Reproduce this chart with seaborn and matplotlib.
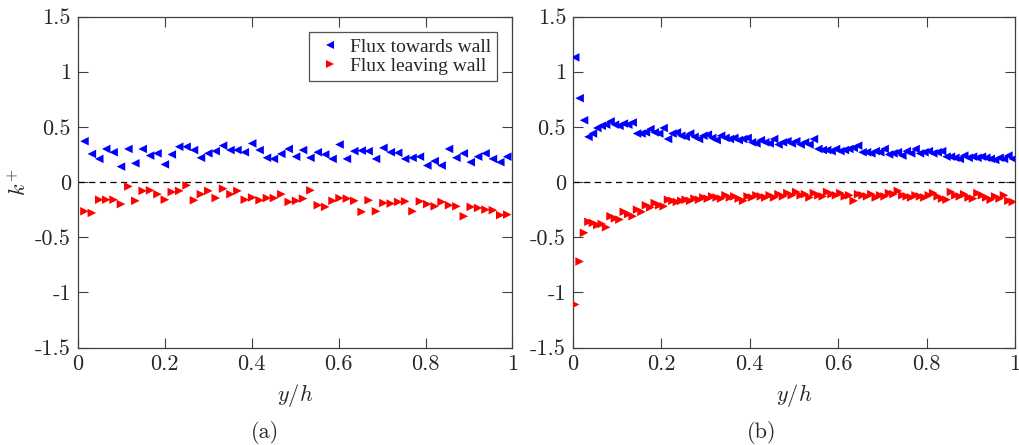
import numpy as np
import pandas as pd
import matplotlib
matplotlib.use("Agg")
import matplotlib.pyplot as plt
import seaborn as sns

## Data read off the reference
# panel (a): coarse sampling
y_a = [0.015, 0.032, 0.049, 0.065, 0.082, 0.099, 0.116, 0.132, 0.149, 0.166,
       0.183, 0.200, 0.216, 0.233, 0.250, 0.267, 0.283, 0.300, 0.317, 0.334,
       0.351, 0.367, 0.384, 0.401, 0.418, 0.435, 0.451, 0.468, 0.485, 0.502,
       0.518, 0.535, 0.552, 0.569, 0.586, 0.602, 0.619, 0.636, 0.653, 0.669,
       0.686, 0.703, 0.720, 0.737, 0.753, 0.770, 0.787, 0.804, 0.821, 0.837,
       0.854, 0.871, 0.888, 0.904, 0.921, 0.938, 0.955, 0.972, 0.988]
towards_a = [0.37, 0.255, 0.21, 0.30, 0.27, 0.14, 0.30, 0.17, 0.30, 0.24,
             0.26, 0.16, 0.25, 0.32, 0.32, 0.29, 0.22, 0.26, 0.28, 0.33,
             0.29, 0.29, 0.27, 0.35, 0.29, 0.22, 0.21, 0.255, 0.30, 0.23,
             0.29, 0.22, 0.27, 0.25, 0.21, 0.34, 0.21, 0.28, 0.285, 0.28,
             0.21, 0.31, 0.27, 0.265, 0.21, 0.22, 0.23, 0.15, 0.19, 0.15,
             0.30, 0.22, 0.26, 0.18, 0.23, 0.26, 0.21, 0.18, 0.23]
leaving_a = [-0.265, -0.28, -0.16, -0.16, -0.16, -0.20, -0.04, -0.17, -0.08, -0.075,
             -0.11, -0.16, -0.09, -0.08, -0.03, -0.165, -0.11, -0.08, -0.145, -0.06,
             -0.11, -0.08, -0.16, -0.14, -0.165, -0.145, -0.145, -0.11, -0.18, -0.17,
             -0.15, -0.075, -0.21, -0.225, -0.17, -0.145, -0.15, -0.17, -0.27, -0.165,
             -0.265, -0.19, -0.195, -0.18, -0.175, -0.265, -0.175, -0.20, -0.22, -0.18,
             -0.21, -0.22, -0.31, -0.225, -0.235, -0.25, -0.255, -0.30, -0.295]

# panel (b): fine sampling
y_b = [0.005, 0.015, 0.025, 0.035, 0.045, 0.055, 0.065, 0.075, 0.085, 0.095,
       0.105, 0.115, 0.125, 0.135, 0.145, 0.155, 0.165, 0.175, 0.185, 0.195,
       0.205, 0.215, 0.225, 0.235, 0.245, 0.255, 0.265, 0.275, 0.285, 0.295,
       0.305, 0.315, 0.325, 0.335, 0.345, 0.355, 0.365, 0.375, 0.385, 0.395,
       0.405, 0.415, 0.425, 0.435, 0.445, 0.455, 0.465, 0.475, 0.485, 0.495,
       0.505, 0.515, 0.525, 0.535, 0.545, 0.555, 0.565, 0.575, 0.585, 0.595,
       0.605, 0.615, 0.625, 0.635, 0.645, 0.655, 0.665, 0.675, 0.685, 0.695,
       0.705, 0.715, 0.725, 0.735, 0.745, 0.755, 0.765, 0.775, 0.785, 0.795,
       0.805, 0.815, 0.825, 0.835, 0.845, 0.855, 0.865, 0.875, 0.885, 0.895,
       0.905, 0.915, 0.925, 0.935, 0.945, 0.955, 0.965, 0.975, 0.985, 0.995]
towards_b = [1.13, 0.76, 0.56, 0.41, 0.44, 0.49, 0.51, 0.52, 0.55, 0.52,
             0.51, 0.53, 0.52, 0.54, 0.44, 0.44, 0.45, 0.48, 0.45, 0.44,
             0.49, 0.39, 0.44, 0.45, 0.42, 0.41, 0.44, 0.41, 0.39, 0.42,
             0.43, 0.40, 0.38, 0.42, 0.40, 0.39, 0.40, 0.38, 0.39, 0.40,
             0.36, 0.35, 0.38, 0.36, 0.35, 0.39, 0.34, 0.36, 0.37, 0.35,
             0.37, 0.34, 0.36, 0.34, 0.39, 0.30, 0.29, 0.29, 0.28, 0.30,
             0.28, 0.29, 0.30, 0.31, 0.33, 0.27, 0.27, 0.26, 0.28, 0.27,
             0.30, 0.25, 0.26, 0.27, 0.24, 0.28, 0.26, 0.30, 0.26, 0.27,
             0.28, 0.26, 0.27, 0.28, 0.23, 0.23, 0.22, 0.21, 0.24, 0.22,
             0.23, 0.22, 0.23, 0.22, 0.21, 0.20, 0.22, 0.21, 0.24, 0.21]
leaving_b = [-1.11, -0.72, -0.46, -0.36, -0.37, -0.39, -0.38, -0.41, -0.31, -0.33,
             -0.34, -0.27, -0.29, -0.31, -0.25, -0.27, -0.21, -0.23, -0.19, -0.21,
             -0.22, -0.16, -0.17, -0.18, -0.17, -0.16, -0.17, -0.15, -0.16, -0.14,
             -0.15, -0.13, -0.14, -0.15, -0.12, -0.14, -0.13, -0.15, -0.17, -0.13,
             -0.14, -0.12, -0.13, -0.14, -0.12, -0.14, -0.11, -0.13, -0.10, -0.12,
             -0.09, -0.12, -0.11, -0.14, -0.10, -0.12, -0.13, -0.09, -0.11, -0.12,
             -0.10, -0.13, -0.12, -0.17, -0.11, -0.12, -0.13, -0.11, -0.14, -0.12,
             -0.13, -0.10, -0.11, -0.08, -0.12, -0.13, -0.14, -0.12, -0.13, -0.14,
             -0.12, -0.10, -0.13, -0.15, -0.16, -0.09, -0.12, -0.13, -0.11, -0.14,
             -0.15, -0.10, -0.12, -0.14, -0.16, -0.13, -0.15, -0.12, -0.17, -0.18]

ytick_vals = [-1.5, -1, -0.5, 0, 0.5, 1, 1.5]
ytick_labels = ["-1.5", "-1", "-0.5", "0", "0.5", "1", "1.5"]
xtick_vals = [0, 0.2, 0.4, 0.6, 0.8, 1]
xtick_labels = ["0", "0.2", "0.4", "0.6", "0.8", "1"]


## Style
sns.set_style("ticks")
plt.rcParams["mathtext.fontset"] = "cm"
plt.rcParams["font.family"] = ["DejaVu Sans"]
axcol = "#404040"


def long_form(y, towards, leaving):
    df = pd.DataFrame({"y/h": y + y, "k+": towards + leaving,
                       "flux": ["Flux towards wall"] * len(y) + ["Flux leaving wall"] * len(y)})
    return df


fig = plt.figure(figsize=(10.19, 4.45), dpi=100)
ax_a = fig.add_axes([0.0765, 0.219, 0.4264, 0.7438])
ax_b = fig.add_axes([0.5623, 0.219, 0.4338, 0.7438])

for ax, df in [(ax_a, long_form(y_a, towards_a, leaving_a)),
               (ax_b, long_form(y_b, towards_b, leaving_b))]:
    ax.axhline(0, color="black", lw=0.9, ls=(0, (5, 3.5)), zorder=1)
    sns.scatterplot(data=df, x="y/h", y="k+", hue="flux", style="flux",
                    markers={"Flux towards wall": "<", "Flux leaving wall": ">"},
                    palette={"Flux towards wall": "#0000ff", "Flux leaving wall": "#ff0000"},
                    s=38, linewidth=0, ax=ax, legend=(ax is ax_a), zorder=3)
    ax.set_xlim(0, 1)
    ax.set_ylim(-1.5, 1.5)
    ax.set_xticks(xtick_vals)
    ax.set_xticklabels(xtick_labels, family="cmr10", fontsize=16, color="#262626")
    ax.set_yticks(ytick_vals)
    ax.set_yticklabels(ytick_labels, family="cmr10", fontsize=16, color="#262626")
    ax.tick_params(direction="in", length=7, width=0.8, color=axcol,
                   top=True, right=True, pad=5)
    for sp in ax.spines.values():
        sp.set_visible(True)
        sp.set_color(axcol)
        sp.set_linewidth(0.9)
    ax.set_xlabel("$y/h$", fontsize=16, color="#262626", labelpad=6)
    ax.set_ylabel("")

ax_a.set_ylabel("$k^{+}$", fontsize=16, color="#262626", labelpad=4)

leg = ax_a.legend(loc="upper right", frameon=True, fancybox=False, markerscale=0.85,
                  prop={"family": "Liberation Serif", "size": 14},
                  handletextpad=0.2, borderpad=0.3, labelspacing=0.1,
                  borderaxespad=0.8, handlelength=1.6)
leg.get_frame().set_edgecolor("#262626")
leg.get_frame().set_linewidth(0.9)

fig.text(265 / 1019, 1 - 433 / 445, "(a)", family="cmr10", fontsize=16,
         ha="center", va="center", color="#262626")
fig.text(762 / 1019, 1 - 433 / 445, "(b)", family="cmr10", fontsize=16,
         ha="center", va="center", color="#262626")

fig.savefig("out.png", dpi=100)
